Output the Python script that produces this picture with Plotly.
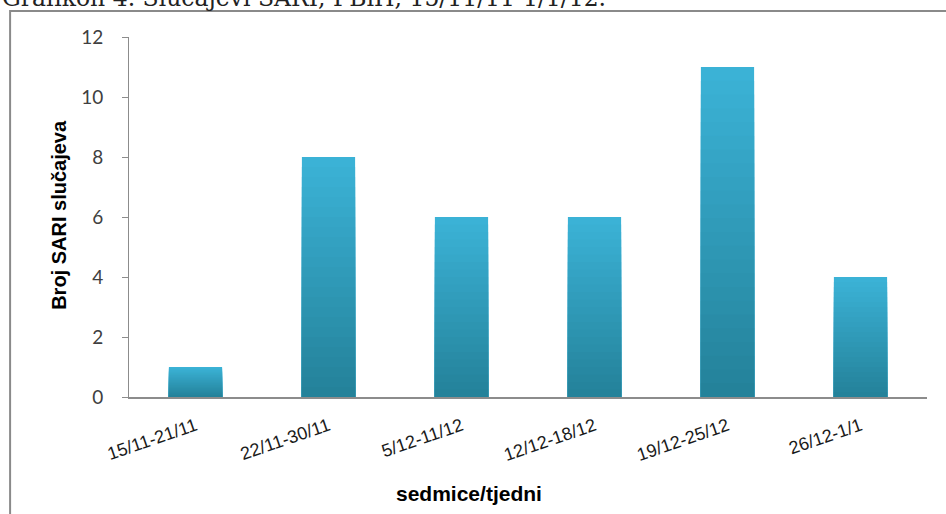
import plotly.graph_objects as go

categories = ["15/11-21/11", "22/11-30/11", "5/12-11/12", "12/12-18/12", "19/12-25/12", "26/12-1/1"]
values = [1, 8, 6, 6, 11, 4]
y_ticks = [0, 2, 4, 6, 8, 10, 12]

top_rgb = (59, 178, 214)
bot_rgb = (36, 130, 154)
N = 24

fig = go.Figure()
for k in range(N):
    t = k / (N - 1)
    c = tuple(int(round(top_rgb[i] + (bot_rgb[i] - top_rgb[i]) * t)) for i in range(3))
    frac = 1 - k / N
    fig.add_trace(go.Bar(
        x=categories, y=[v * frac for v in values],
        marker=dict(color="rgb(%d,%d,%d)" % c, line=dict(width=0)),
        width=0.4, showlegend=False, hoverinfo="skip"))

fig.update_layout(
    width=946, height=514, barmode="overlay",
    margin=dict(l=129, r=19, t=37, b=117),
    paper_bgcolor="white", plot_bgcolor="white",
    xaxis=dict(showgrid=False, showline=True, linecolor="#8c8c8c", linewidth=1.5,
               ticks="", tickangle=-19, ticklabelstandoff=10,
               tickfont=dict(family="Liberation Sans", size=18, color="#1a1a1a")),
    yaxis=dict(range=[0, 12], tickvals=y_ticks, showgrid=False, zeroline=False,
               showline=True, linecolor="#8c8c8c", linewidth=1,
               ticks="outside", ticklen=6, tickcolor="#8c8c8c", ticklabelstandoff=15,
               tickfont=dict(family="Lato", size=19, color="#404040")),
    shapes=[dict(type="rect", xref="paper", yref="paper",
                 x0=-0.149, x1=1.1, y0=-0.4, y1=1.072,
                 line=dict(color="#8a8a8a", width=2), fillcolor="rgba(0,0,0,0)")],
    annotations=[
        dict(text="Grafikon 4. Slučajevi SARI, FBiH, 15/11/11-1/1/12.", xref="paper", yref="paper",
             x=-0.1617, y=1.064, xanchor="left", yanchor="bottom", showarrow=False,
             font=dict(family="DejaVu Serif", size=23.5, color="#222222")),
        dict(text="<b>Broj SARI slučajeva</b>", xref="paper", yref="paper",
             x=-0.104, y=0.506, textangle=-90, showarrow=False,
             font=dict(family="Liberation Sans", size=20, color="black")),
        dict(text="<b>sedmice/tjedni</b>", xref="paper", yref="paper",
             x=0.4255, y=-0.306, showarrow=False,
             font=dict(family="Liberation Sans", size=21, color="black")),
    ],
)

fig.write_html("out.html", config={"displayModeBar": False},
               post_script="document.body.style.margin='0';document.body.style.overflow='hidden';")
